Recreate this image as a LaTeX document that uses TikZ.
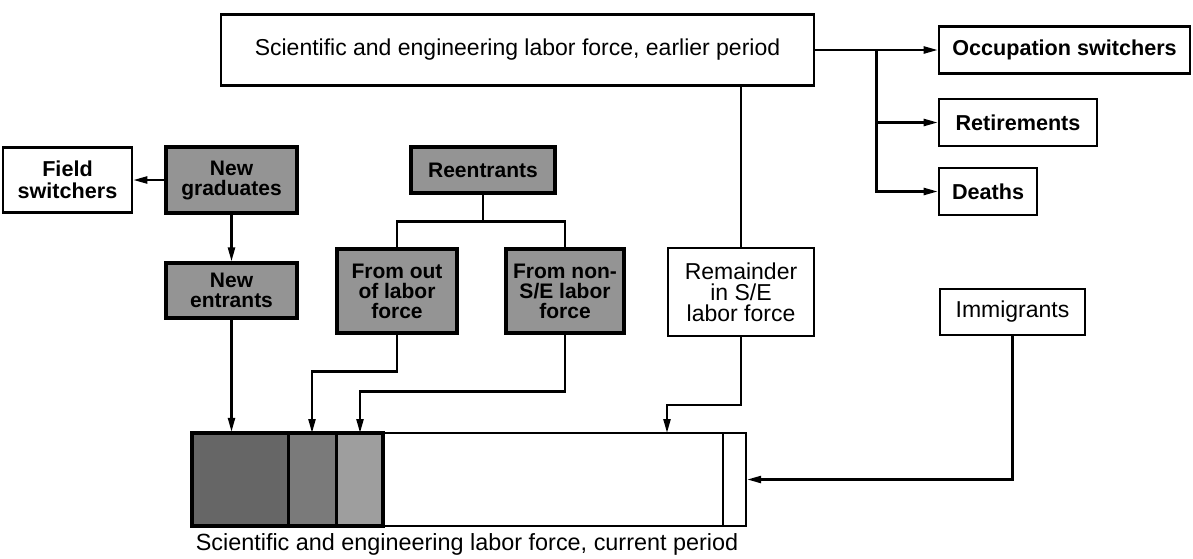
\documentclass[tikz,border=0pt]{standalone}
\usepackage{fontspec}
\setmainfont{Liberation Sans}
\usepackage{tikz}
\usetikzlibrary{positioning,arrows.meta,calc}
\tikzset{
  whitebox/.style={draw=black, line width=2.3pt, fill=white, inner sep=0pt, align=center,
    font=\fontsize{23}{21}\selectfont},
  outbox/.style={whitebox, line width=2.6pt, font=\fontsize{21.6}{22}\selectfont\bfseries},
  greybox/.style={draw=black, line width=3.2pt, fill=black!42, inner sep=0pt, align=center,
    font=\fontsize{21}{20}\selectfont\bfseries},
  link/.style={line width=2.3pt},
  flow/.style={link, -{Triangle[length=14pt,width=7pt]}}
}
\begin{document}
\begin{tikzpicture}[x=1pt,y=-1pt]
  \useasboundingbox (0,0) rectangle (1193,558);

  % earlier period and losses
  \node[whitebox, minimum width=593, minimum height=71] (earlier) at (517.5,50) {Scientific and engineering labor force, earlier period};
  \node[outbox, minimum width=251, minimum height=47] (occ) at (1064.5,50) {Occupation switchers};
  \node[outbox, minimum width=158, minimum height=47] (ret) at (1018,122.5) {Retirements};
  \node[outbox, minimum width=98, minimum height=47] (deaths) at (988,191.5) {Deaths};
  \coordinate (split) at ($(earlier.east)!0.5!(occ.west)$);

  % inflows
  \node[outbox, minimum width=129, minimum height=65] (field) at (67.5,180) {Field\\switchers};
  \node[greybox, minimum width=131, minimum height=66] (newgrad) at (231.5,180) {New\\graduates};
  \node[greybox, minimum width=131, minimum height=55] (newent) at (231.5,290.5) {New\\entrants};
  \node[greybox, minimum width=144, minimum height=46] (reent) at (483,170) {Reentrants};
  \node[greybox, minimum width=120, minimum height=84] (fromout) at (397,291) {From out\\of labor\\force};
  \node[greybox, minimum width=118, minimum height=84] (fromnon) at (565,291) {From non-\\S/E labor\\force};
  \node[whitebox, minimum width=146, minimum height=88] (remainder) at (741,292) {Remainder\\in S/E\\labor force};
  \node[whitebox, minimum width=145, minimum height=46] (immig) at (1012.5,312) {Immigrants};

  % current period bar
  \fill[black!60] (192,433) rectangle (288,526);
  \fill[black!52] (288,433) rectangle (336,526);
  \fill[black!38] (336,433) rectangle (383,526);
  \node[draw=black, line width=2.3pt, inner sep=0pt, minimum width=554, minimum height=93] (bar) at (469,479.5) {};
  \draw[line width=3.2pt] (192,433) rectangle (383,526);
  \draw[line width=3pt] (288,433) -- (288,526);
  \draw[line width=3pt] (336,433) -- (336,526);
  \draw[line width=1.5pt] (723,433) -- (723,526);
  \node[anchor=base, font=\fontsize{23.4}{21}\selectfont] (caption) at (467,550) {Scientific and engineering labor force, current period};
  \coordinate (inB) at (312,433);
  \coordinate (inC) at (360,433);
  \coordinate (inR) at (667,433);

  \draw[flow] (earlier.east) -- (occ.west);
  \draw[flow] (split) |- (ret.west);
  \draw[flow] (split) |- (deaths.west);
  \draw[link] (remainder.north |- earlier.south) -- (remainder.north);
  \draw[flow] (newgrad.west) -- (field.east);
  \draw[flow] (newgrad.south) -- (newent.north);
  \draw[link] (reent.south) -- ++(0,27) coordinate (fork);
  \draw[link] (fork) -| (fromout.north);
  \draw[link] (fork) -| (fromnon.north);
  % into the bar
  \draw[flow] (newent.south) -- (newent.south |- bar.north);
  \draw[flow] (fromout.south) -- ++(0,37) -| (inB);
  \draw[flow] (fromnon.south) -- ++(0,57) -| (inC);
  \draw[flow] (remainder.south) -- ++(0,68) -| (inR);
  \draw[flow] (immig.south) |- (bar.east);
\end{tikzpicture}
\end{document}
